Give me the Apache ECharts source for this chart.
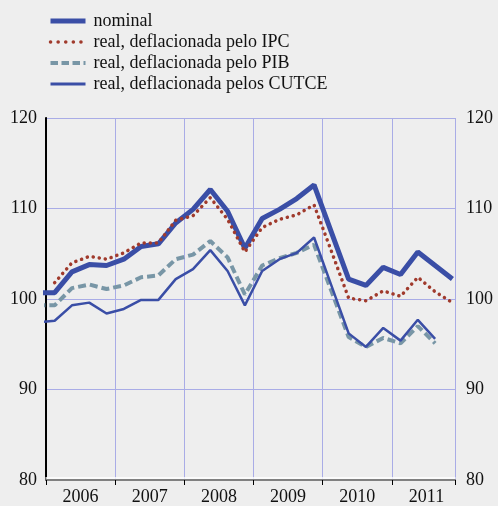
<!DOCTYPE html>
<html>
<head>
<meta charset="utf-8">
<script src="https://cdn.jsdelivr.net/npm/echarts@6/dist/echarts.min.js"></script>
<style>
  html, body { margin: 0; padding: 0; background: #eeeeee; }
  #chart { width: 498px; height: 506px; }
</style>
</head>
<body>
<div id="chart"></div>
<script>
// trimestres, o primeiro (2005T4) so serve para o traço até ao eixo
var quarters = ["2005T4",
  "2006T1", "2006T2", "2006T3", "2006T4",
  "2007T1", "2007T2", "2007T3", "2007T4",
  "2008T1", "2008T2", "2008T3", "2008T4",
  "2009T1", "2009T2", "2009T3", "2009T4",
  "2010T1", "2010T2", "2010T3", "2010T4",
  "2011T1", "2011T2", "2011T3", "2011T4"];
var years = ["2006", "2007", "2008", "2009", "2010", "2011"];
var yTicks = [80, 90, 100, 110, 120];

var nominal = [100.7,
  100.7, 103.0, 103.8, 103.7,
  104.4, 105.8, 106.1, 108.4,
  109.9, 112.1, 109.7, 105.6,
  108.9, 109.9, 111.1, 112.6,
  107.4, 102.2, 101.5, 103.5,
  102.7, 105.2, 103.7, 102.2];
var realIPC = [null,
  101.8, 104.0, 104.7, 104.4,
  105.1, 106.2, 106.2, 108.7,
  109.2, 111.2, 108.8, 105.2,
  107.9, 108.8, 109.3, 110.4,
  105.3, 100.1, 99.8, 100.9,
  100.3, 102.4, 100.8, 99.6];
var realPIB = [99.3,
  99.3, 101.2, 101.6, 101.1,
  101.5, 102.4, 102.6, 104.4,
  104.9, 106.4, 104.6, 100.5,
  103.7, 104.5, 105.1, 106.0,
  100.9, 95.8, 94.7, 95.7,
  95.1, 97.0, 95.1, null];
var realCUTCE = [97.4,
  97.6, 99.3, 99.6, 98.4,
  98.9, 99.9, 99.9, 102.2,
  103.3, 105.4, 103.1, 99.3,
  103.1, 104.4, 105.1, 106.8,
  101.5, 96.2, 94.7, 96.8,
  95.4, 97.7, 95.6, null];

var names = ["nominal", "real, deflacionada pelo IPC", "real, deflacionada pelo PIB", "real, deflacionada pelos CUTCE"];

// ponto a meio do trimestre: 2006T1 -> 0.5
function pairs(arr) {
  return arr.map(function (v, i) { return [i - 0.5, v]; });
}

var serif = "Liberation Serif";
var xMax = 23.65;

var styles = [
  { color: "#3a4ea6", width: 5 },
  { color: "#a03a2c", width: 3.5, type: [0.1, 6], cap: "round" },
  { color: "#7896a6", width: 4, type: [8, 4] },
  { color: "#3a4ea6", width: 2.5 }
];
var legendStyles = [
  { color: "#3a4ea6", width: 5 },
  { color: "#a03a2c", width: 3.5, type: [0.1, 7.5], cap: "round" },
  { color: "#7896a6", width: 4, type: [7.5, 3.5] },
  { color: "#3a4ea6", width: 3 }
];

var chart = echarts.init(document.getElementById("chart"));
var option = {
  backgroundColor: "#eeeeee",
  animation: false,
  textStyle: { fontFamily: serif },
  legend: {
    orient: "vertical",
    left: 43,
    top: 7,
    itemWidth: 35,
    itemHeight: 14,
    itemGap: 3,
    data: names.map(function (n, i) {
      return { name: n, lineStyle: legendStyles[i] };
    }),
    itemStyle: { opacity: 0 },
    textStyle: { fontFamily: serif, fontSize: 18, lineHeight: 18, color: "#111", padding: [0, 0, 0, 3] }
  },
  grid: { left: 46, right: 43, top: 118, bottom: 24 },
  xAxis: [
    {
      type: "value",
      position: "bottom",
      min: 0,
      max: xMax,
      interval: 4,
      axisLine: { show: true, onZero: false, lineStyle: { color: "#808080", width: 2 } },
      axisTick: { show: true, length: 5, lineStyle: { color: "#000", width: 1 } },
      axisLabel: { show: false },
      splitLine: { show: true, lineStyle: { color: "#a9ace6", width: 1 } }
    },
    {
      type: "value",
      position: "bottom",
      min: 0,
      max: xMax,
      interval: 2,
      offset: -2,
      axisLine: { show: true, onZero: false, lineStyle: { color: "#ffffff", width: 1.5 } },
      axisTick: { show: false },
      splitLine: { show: false },
      axisLabel: {
        margin: 10,
        fontFamily: serif,
        fontSize: 18,
        color: "#111",
        formatter: function (v) {
          return v % 4 === 2 ? years[(v - 2) / 4] : "";
        }
      }
    }
  ],
  yAxis: [
    {
      type: "value",
      position: "left",
      min: 80,
      max: 120,
      interval: 10,
      axisLine: { show: true, lineStyle: { color: "#000", width: 1 } },
      axisTick: { show: false },
      axisLabel: { margin: 9, fontFamily: serif, fontSize: 18, color: "#111",
        formatter: function (v) { return yTicks.indexOf(v) >= 0 ? String(v) : ""; } },
      splitLine: { show: true, lineStyle: { color: "#a9ace6", width: 1 } }
    },
    {
      type: "value",
      position: "right",
      min: 80,
      max: 120,
      interval: 10,
      axisLine: { show: true, lineStyle: { color: "#000", width: 2 } },
      axisTick: { show: false },
      axisLabel: { margin: 11, fontFamily: serif, fontSize: 18, color: "#111" },
      splitLine: { show: false }
    }
  ],
  series: [nominal, realIPC, realPIB, realCUTCE].map(function (arr, i) {
    return {
      name: names[i],
      type: "line",
      symbol: "none",
      data: pairs(arr),
      lineStyle: styles[i],
      itemStyle: { color: styles[i].color }
    };
  })
};
chart.setOption(option);
</script>
</body>
</html>
